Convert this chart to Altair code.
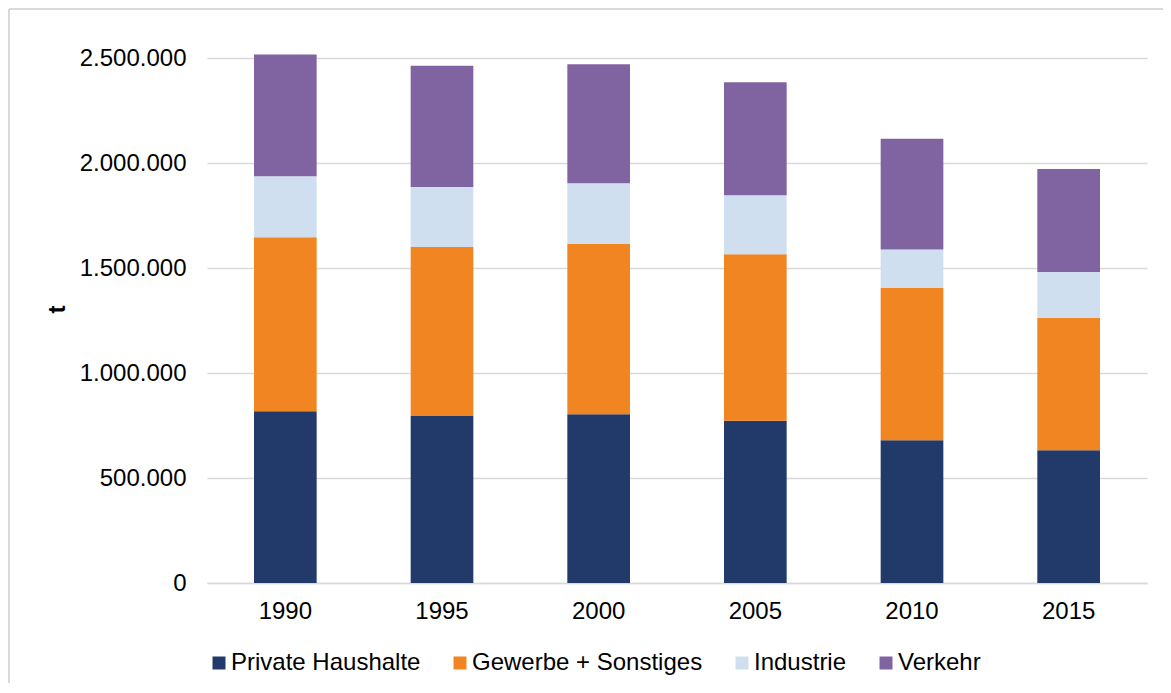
import altair as alt
import pandas as pd

years = ["1990", "1995", "2000", "2005", "2010", "2015"]
series = ["Private Haushalte", "Gewerbe + Sonstiges", "Industrie", "Verkehr"]
colors = ["#213A6A", "#F08522", "#CFDFEF", "#8064A2"]

private = [818000, 795000, 803000, 773000, 680000, 632000]
gewerbe = [828000, 805000, 813000, 792000, 725000, 630000]
industrie = [291000, 286000, 287000, 281000, 183000, 219000]
verkehr = [580000, 577000, 567000, 539000, 528000, 490000]

values = [private, gewerbe, industrie, verkehr]
rows = []
for si, (name, vals) in enumerate(zip(series, values)):
    for y, v in zip(years, vals):
        rows.append({"Jahr": y, "Sektor": name, "t": v, "idx": si})
df = pd.DataFrame(rows)

W, H = 940, 525

bars = alt.Chart(df).mark_bar().encode(
    x=alt.X("Jahr:N", sort=years,
            scale=alt.Scale(paddingInner=0.6, paddingOuter=0.3),
            axis=alt.Axis(title=None, labelAngle=0, labelFontSize=24,
                          labelFont="Liberation Sans", labelColor="#000000",
                          labelPadding=16, ticks=False, domainColor="#D9D9D9",
                          domainWidth=1.5)),
    y=alt.Y("t:Q", stack="zero",
            scale=alt.Scale(domain=[0, 2500000], nice=False),
            axis=alt.Axis(title="t", values=[0, 500000, 1000000, 1500000, 2000000, 2500000],
                          format=",d", labelFontSize=24, labelFont="Liberation Sans",
                          labelColor="#000000", labelPadding=21, ticks=False, domain=False,
                          gridColor="#D9D9D9", gridWidth=1.5,
                          titleFontSize=24, titleFont="Liberation Sans", titleFontWeight="bold",
                          titleColor="#000000", titleAngle=-90, titleX=-150, titleY=251,
                          titleAlign="center", titleBaseline="middle")),
    color=alt.Color("Sektor:N", sort=series,
                    scale=alt.Scale(domain=series, range=colors),
                    legend=alt.Legend(title=None, orient="none", direction="horizontal",
                                      legendX=0, legendY=593, labelFontSize=24,
                                      labelFont="Liberation Sans", labelColor="#000000",
                                      labelLimit=400,
                                      symbolType="square", symbolSize=169,
                                      symbolStrokeWidth=0, labelOffset=0,
                                      columnPadding=27, padding=0)),
    order=alt.Order("idx:Q", sort="ascending"),
)

border_df = pd.DataFrame({"a": [0]})
top_line = alt.Chart(border_df).mark_rule(stroke="#D9D9D9", strokeWidth=2).encode(
    x=alt.value(-198), x2=alt.value(960), y=alt.value(-49)
)
left_line = alt.Chart(border_df).mark_rule(stroke="#D9D9D9", strokeWidth=2).encode(
    x=alt.value(-198), y=alt.value(-49), y2=alt.value(630)
)

chart = alt.layer(top_line, left_line, bars).properties(
    width=W, height=H,
    autosize=alt.AutoSizeParams(type="none"),
    padding={"left": 199, "top": 50, "right": 16, "bottom": 100},
).configure(
    locale={"number": {"decimal": ",", "thousands": ".", "grouping": [3], "currency": ["", " €"]}}
).configure_view(stroke=None)

chart.save("out.html", embed_options={"renderer": "svg", "actions": False})
